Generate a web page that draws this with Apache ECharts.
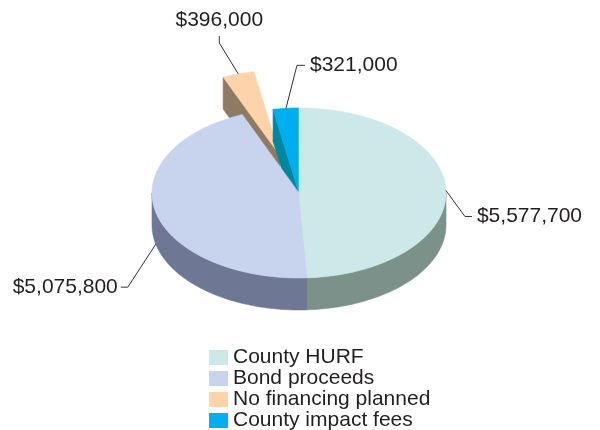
<!DOCTYPE html>
<html>
<head>
<meta charset="utf-8">
<script src="https://cdn.jsdelivr.net/npm/echarts@6/dist/echarts.min.js"></script>
<style>
  html, body { margin: 0; padding: 0; background: #ffffff; }
  #chart { width: 600px; height: 430px; }
</style>
</head>
<body>
<div id="chart"></div>
<script>
// Funding sources
const categories = ['County HURF', 'Bond proceeds', 'No financing planned', 'County impact fees'];
const values = [5577700, 5075800, 396000, 321000];
const valueLabels = ['$5,577,700', '$5,075,800', '$396,000', '$321,000'];
const exploded = [false, false, true, false];

// Styling
const topColors = ['#CCE8E8', '#C8D4EE', '#FCD3AA', '#00AEEF'];
const sideColors = ['#7B918A', '#6E7894', '#8F7B63', '#00879F'];
const FONT = 'Liberation Sans, Arial, Helvetica, sans-serif';
const TEXT_COLOR = '#231F20';
const DEPTH = 0.376;     // thickness of the disc, in ellipse radii
const EXPLODE = 0.46;    // pull-out distance of exploded slices
// leader line layout per slice: anchor on top (0) or bottom (1) rim, elbow offset, tail
const leaders = [
  { depth: 0, dx: 19, dy: 26, tail: 7 },
  { depth: 1, dx: -28, dy: 43, tail: -7 },
  { depth: 0, dx: -19, dy: -31, up: 7 },
  { depth: 0, dx: 11, dy: -43, tail: 8 }
];

const total = values.reduce((s, v) => s + v, 0);
const starts = values.map((v, i) => values.slice(0, i).reduce((s, x) => s + x, 0));
const RAD = Math.PI / 180;

function renderSlice(i) {
  return function (params, api) {
    const a0 = api.value(0) / total * 360;
    const a1 = (api.value(0) + api.value(1)) / total * 360;
    const mid = (a0 + a1) / 2;
    let ox = 0, oy = 0;
    if (exploded[i]) {
      ox = EXPLODE * Math.sin(mid * RAD);
      oy = EXPLODE * Math.cos(mid * RAD);
    }
    const P = (deg, r, dz) => api.coord([ox + r * Math.sin(deg * RAD), oy + r * Math.cos(deg * RAD) - dz]);
    const arc = (from, to, dz) => {
      const pts = [];
      const n = Math.max(2, Math.ceil(Math.abs(to - from)));
      for (let k = 0; k <= n; k++) pts.push(P(from + (to - from) * k / n, 1, dz));
      return pts;
    };
    const side = { fill: sideColors[i], stroke: sideColors[i], lineWidth: 0.6 };
    const children = [];
    const n = values.length;
    const prevExploded = exploded[(i - 1 + n) % n];
    const nextExploded = exploded[(i + 1) % n];

    // radial walls that face the viewer across a gap
    if (Math.sin(a0 * RAD) < 0 && (exploded[i] || prevExploded)) {
      children.push({ type: 'polygon', shape: { points: [P(a0, 0, 0), P(a0, 1, 0), P(a0, 1, DEPTH), P(a0, 0, DEPTH)] }, style: side });
    }
    if (Math.sin(a1 * RAD) > 0 && (exploded[i] || nextExploded)) {
      children.push({ type: 'polygon', shape: { points: [P(a1, 0, 0), P(a1, 1, 0), P(a1, 1, DEPTH), P(a1, 0, DEPTH)] }, style: side });
    }
    // outer rim on the front half
    const s = Math.max(a0, 90), e = Math.min(a1, 270);
    if (s < e) {
      children.push({ type: 'polygon', shape: { points: arc(s, e, 0).concat(arc(e, s, DEPTH)) }, style: side });
    }
    // top face
    children.push({
      type: 'polygon',
      shape: { points: [P(0, 0, 0)].concat(arc(a0, a1, 0)) },
      style: { fill: topColors[i], stroke: topColors[i], lineWidth: 0.6 }
    });

    // value label with leader line
    const L = leaders[i];
    const anchor = P(mid, 1, L.depth * DEPTH);
    const elbow = [anchor[0] + L.dx, anchor[1] + L.dy];
    let end, text;
    if (L.up) {
      end = [elbow[0], elbow[1] - L.up];
      text = { x: end[0], y: end[1] - 5, align: 'center', verticalAlign: 'bottom' };
    } else {
      end = [elbow[0] + L.tail, elbow[1]];
      text = { x: end[0] + (L.tail > 0 ? 5 : -3), y: end[1], align: L.tail > 0 ? 'left' : 'right', verticalAlign: 'middle' };
    }
    children.push({
      type: 'polyline',
      shape: { points: [anchor, elbow, end] },
      style: { stroke: '#333333', lineWidth: 1, fill: null }
    });
    children.push({
      type: 'text', x: text.x, y: text.y,
      style: {
        text: valueLabels[i], fill: TEXT_COLOR, fontSize: 21, fontFamily: FONT,
        align: text.align, verticalAlign: text.verticalAlign
      }
    });
    return { type: 'group', children: children };
  };
}

// back-to-front drawing order
const drawOrder = [2, 3, 1, 0];

const chart = echarts.init(document.getElementById('chart'), null, { renderer: 'canvas' });
chart.setOption({
  animation: false,
  backgroundColor: '#ffffff',
  grid: { left: 152, width: 294, top: 65.5, height: 255 },
  xAxis: { type: 'value', min: -1, max: 1, show: false },
  yAxis: { type: 'value', min: -1.5, max: 1.5, show: false },
  legend: {
    data: categories,
    orient: 'vertical',
    left: 209,
    top: 347,
    height: 140,
    padding: 0,
    icon: 'rect',
    itemWidth: 19,
    itemHeight: 15,
    itemGap: 0,
    selectedMode: false,
    textStyle: { fontSize: 21, fontFamily: FONT, color: TEXT_COLOR, lineHeight: 20.3 }
  },
  series: drawOrder.map(i => ({
    type: 'custom',
    name: categories[i],
    coordinateSystem: 'cartesian2d',
    silent: true,
    clip: false,
    itemStyle: { color: topColors[i] },
    renderItem: renderSlice(i),
    data: [[starts[i], values[i]]]
  }))
});
</script>
</body>
</html>
